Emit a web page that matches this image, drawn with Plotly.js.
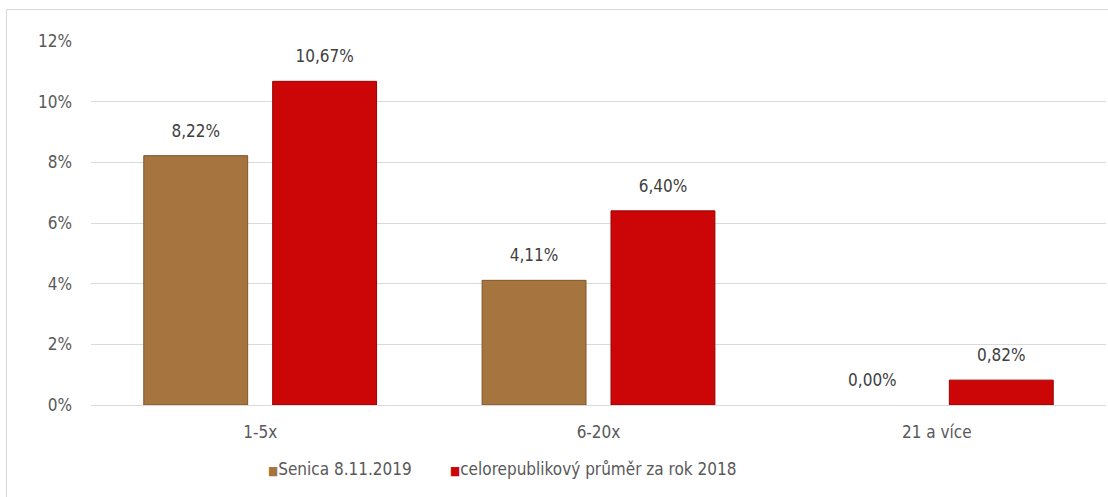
<!DOCTYPE html>
<html>
<head>
<meta charset="utf-8">
<script src="https://cdn.plot.ly/plotly-3.0.1.min.js"></script>
<style>html,body{margin:0;padding:0;background:#fff;}#chart{width:1108px;height:497px;}</style>
</head>
<body>
<div id="chart"></div>
<script>
var categories = ["1-5x", "6-20x", "21 a více"];
var seriesNames = ["Senica 8.11.2019", "celorepublikový průměr za rok 2018"];
var senica = [8.22, 4.11, 0.00];
var republika = [10.67, 6.40, 0.82];
var yTicks = [0, 2, 4, 6, 8, 10, 12];

var FONT = "DejaVu Sans Condensed, DejaVu Sans, sans-serif";
var colors = ["#A6743E", "#CC0606"];
var lineColors = ["#7E542A", "#9A0000"];

function barTrace(name, vals, i) {
  return {
    type: "bar", name: name, x: categories, y: vals,
    offsetgroup: String(i),
    marker: {color: colors[i], line: {color: lineColors[i], width: vals.map(function (v) { return v > 0 ? 1 : 0; })}},
    hoverinfo: "skip", showlegend: false
  };
}
function labelTrace(vals, i) {
  return {
    type: "scatter", mode: "markers+text", x: categories, y: vals,
    offsetgroup: String(i),
    marker: {size: 22, opacity: 0, color: "#fff"},
    text: vals.map(function (v) { return v.toFixed(2).replace(".", ",") + "%"; }),
    textposition: "top center",
    textfont: {family: FONT, size: 17, color: "#404040"},
    hoverinfo: "skip", showlegend: false, cliponaxis: false
  };
}

var data = [
  barTrace(seriesNames[0], senica, 0),
  barTrace(seriesNames[1], republika, 1),
  labelTrace(senica, 0),
  labelTrace(republika, 1)
];

var L = 91, R = 2, T = 41, B = 92, W = 1108, H = 497;
var pw = W - L - R, ph = H - T - B;
function px(x) { return (x - L) / pw; }
function py(y) { return (H - B - y) / ph; }

var layout = {
  width: W, height: H,
  margin: {l: L, r: R, t: T, b: B, pad: 0},
  paper_bgcolor: "#fff", plot_bgcolor: "#fff",
  barmode: "group", bargap: 0.238, bargroupgap: 0.194,
  scattermode: "group", scattergap: 0.238,
  separators: ",.",
  showlegend: false,
  font: {family: FONT, size: 17, color: "#595959"},
  xaxis: {
    type: "category", showgrid: false, showline: true, linecolor: "#D9D9D9", linewidth: 1,
    ticks: "", tickfont: {family: FONT, size: 17, color: "#595959"}, ticklabelstandoff: 12,
    fixedrange: true
  },
  yaxis: {
    range: [0, 12], tickvals: yTicks, ticktext: yTicks.map(function (t) { return t + "%"; }),
    showgrid: true, gridcolor: "#D9D9D9", gridwidth: 1, zeroline: false, showline: false,
    ticks: "", tickfont: {family: FONT, size: 17, color: "#595959"}, ticklabelstandoff: 18,
    fixedrange: true
  },
  shapes: [
    {type: "line", xref: "paper", yref: "paper", x0: px(6.5), x1: px(1108), y0: py(9.5), y1: py(9.5),
     line: {color: "#D9D9D9", width: 1}, layer: "above"},
    {type: "line", xref: "paper", yref: "paper", x0: px(6.5), x1: px(6.5), y0: py(9.5), y1: py(497),
     line: {color: "#D9D9D9", width: 1}, layer: "above"}
  ],
  annotations: [
    {xref: "paper", yref: "paper", x: px(266), y: py(469), xanchor: "left", yanchor: "middle",
     showarrow: false, font: {family: FONT, size: 17, color: "#595959"},
     text: "<span style='color:" + colors[0] + ";font-size:12px'>■</span>" + seriesNames[0]},
    {xref: "paper", yref: "paper", x: px(448), y: py(469), xanchor: "left", yanchor: "middle",
     showarrow: false, font: {family: FONT, size: 17, color: "#595959"},
     text: "<span style='color:" + colors[1] + ";font-size:12px'>■</span>" + seriesNames[1]}
  ]
};

Plotly.newPlot("chart", data, layout, {displayModeBar: false, staticPlot: true});
</script>
</body>
</html>
